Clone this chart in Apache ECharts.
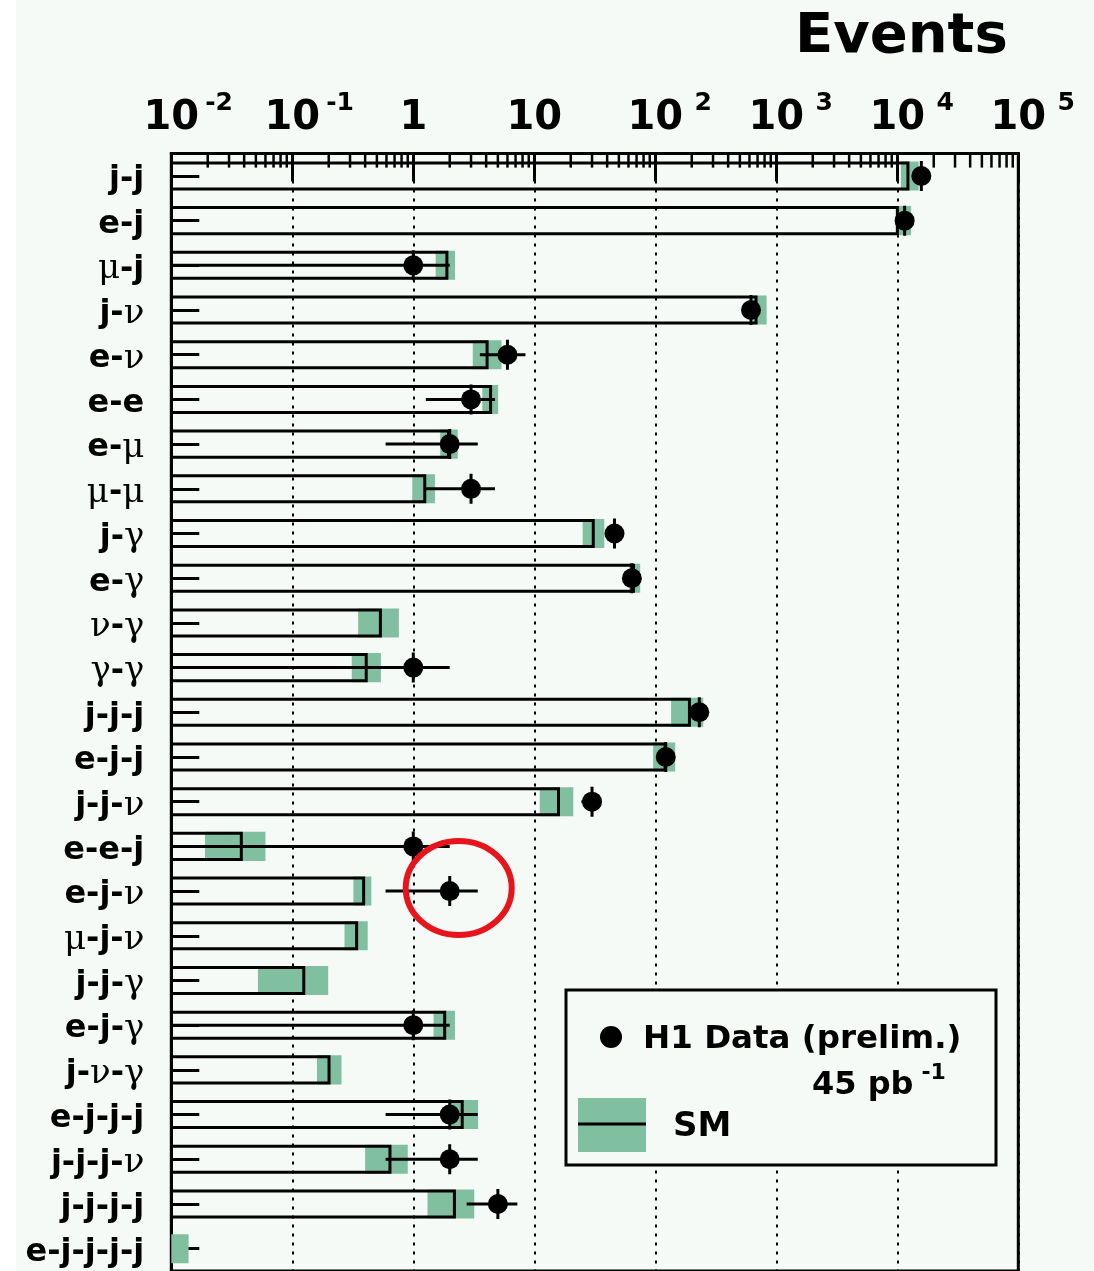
<!DOCTYPE html>
<html>
<head>
<meta charset="utf-8">
<script src="https://cdn.jsdelivr.net/npm/echarts@6/dist/echarts.min.js"></script>
<style>
  html, body { margin: 0; padding: 0; background: #f5faf6; }
  #chart { width: 1094px; height: 1271px; }
</style>
</head>
<body>
<div id="chart"></div>
<script>
// Event topologies, top to bottom
const categories = ['j-j','e-j','μ-j','j-ν','e-ν','e-e','e-μ','μ-μ','j-γ','e-γ','ν-γ','γ-γ',
  'j-j-j','e-j-j','j-j-ν','e-e-j','e-j-ν','μ-j-ν','j-j-γ','e-j-γ','j-ν-γ','e-j-j-j','j-j-j-ν','j-j-j-j','e-j-j-j-j'];

// Standard Model expectation and its uncertainty band
const smExpected = [12600, 10300, 1.95, 700, 4.19, 4.48, 2.01, 1.28, 31.6, 68, 0.55, 0.42,
  197, 124, 16.3, 0.039, 0.40, 0.35, 0.128, 1.87, 0.207, 2.61, 0.66, 2.25, 0.008];
const smLow = [10700, 9800, 1.53, 645, 3.1, 3.72, 1.67, 0.98, 25.1, 61, 0.35, 0.31,
  135, 96, 11.1, 0.019, 0.32, 0.27, 0.052, 1.47, 0.16, 2.04, 0.40, 1.31, 0.005];
const smHigh = [15000, 13000, 2.21, 832, 5.36, 5.02, 2.33, 1.51, 37.9, 75, 0.76, 0.54,
  249, 146, 21, 0.06, 0.45, 0.42, 0.198, 2.21, 0.255, 3.43, 0.90, 3.19, 0.0139];

// H1 observed events (null = no event observed) with error bar ends
const dataObserved = [15800, 11500, 1, 618, 6, 3, 2, 3, 46, 64, null, 1,
  231, 122, 30, 1, 2, null, null, 1, null, 2, 2, 5, null];
const dataErrLow = [15670, 11390, 0, 593, 3.55, 1.27, 0.59, 1.27, 39.2, 56, null, 0,
  216, 111, 24.5, 0, 0.59, null, null, 0, null, 0.59, 0.59, 2.76, null];
const dataErrHigh = [15930, 11610, 2, 643, 8.45, 4.73, 3.41, 4.73, 52.8, 72, null, 2,
  246, 133, 35.5, 2, 3.41, null, null, 2, null, 3.41, 3.41, 7.24, null];

// Axis decades and the minor tick multipliers inside each decade
const decadeTicks = [0.01, 0.1, 1, 10, 100, 1000, 10000, 100000];
const minorMultipliers = [2, 3, 4, 5, 6, 7, 8, 9];

const BG = '#f5faf6';
const BAND = '#80c0a0';
const SANS = 'DejaVu Sans';
const SERIF = 'DejaVu Serif';
const GREEK = /[μνγ]/;

const minorTickValues = [];
decadeTicks.slice(0, -1).forEach(d => minorMultipliers.forEach(m => minorTickValues.push(+(m * d).toPrecision(3))));

function categoryLabel(name) {
  let out = '';
  for (const ch of name) {
    out += GREEK.test(ch) ? '{g|' + ch + '}' : '{a|' + ch + '}';
  }
  return out;
}

function decadeLabel(v) {
  const e = Math.round(Math.log10(v));
  if (e === 0) return '{b|1}';
  if (e === 1) return '{b|10}';
  return '{p|}{b|10}{s|' + e + '}';
}

const smItems = categories.map((c, i) => [i, smExpected[i], smLow[i], smHigh[i]]);
const dataItems = [];
categories.forEach((c, i) => {
  if (dataObserved[i] != null) dataItems.push([i, dataObserved[i], dataErrLow[i], dataErrHigh[i]]);
});

function renderSM(params, api) {
  const cs = params.coordSys;
  const i = api.value(0);
  const sm = api.value(1), lo = api.value(2), hi = api.value(3);
  const yc = api.coord([1, i])[1];
  const h = api.size([0, 1])[1] * 0.65;
  const xLo = Math.max(api.coord([lo, i])[0], cs.x);
  const xHi = api.coord([hi, i])[0];
  const xSm = api.coord([sm, i])[0];
  const children = [];
  if (xHi > cs.x) {
    children.push({ type: 'rect', shape: { x: xLo, y: yc - h / 2, width: xHi - xLo, height: h },
      style: { fill: BAND } });
  }
  if (xSm > cs.x) {
    const t = yc - h / 2 + 1.5, b = yc + h / 2 - 1.5, r = xSm - 1.5;
    children.push({ type: 'polyline', shape: { points: [[cs.x, t], [r, t], [r, b], [cs.x, b]] },
      style: { stroke: '#000', lineWidth: 3, fill: null } });
  }
  return { type: 'group', children };
}

function renderData(params, api) {
  const cs = params.coordSys;
  const i = api.value(0);
  const n = api.value(1), lo = api.value(2), hi = api.value(3);
  const p = api.coord([n, i]);
  const xl = lo > 0 ? Math.max(api.coord([lo, i])[0], cs.x) : cs.x;
  const xh = api.coord([hi, i])[0];
  return {
    type: 'group',
    children: [
      { type: 'line', shape: { x1: xl, y1: p[1], x2: xh, y2: p[1] }, style: { stroke: '#000', lineWidth: 3 } },
      { type: 'line', shape: { x1: p[0], y1: p[1] - 15, x2: p[0], y2: p[1] + 15 }, style: { stroke: '#000', lineWidth: 3 } },
      { type: 'circle', shape: { cx: p[0], cy: p[1], r: 10 }, style: { fill: '#000' } }
    ]
  };
}

function renderMinorTick(params, api) {
  const cs = params.coordSys;
  const x = api.coord([api.value(0), 0])[0];
  return { type: 'line', shape: { x1: x, y1: cs.y, x2: x, y2: cs.y + 14 }, style: { stroke: '#000', lineWidth: 2.5 } };
}

const chart = echarts.init(document.getElementById('chart'), null, { renderer: 'canvas' });

const option = {
  backgroundColor: BG,
  animation: false,
  grid: {
    left: 171.3, top: 153.6, width: 847, height: 1120.5,
    show: true, borderColor: '#000', borderWidth: 3, backgroundColor: 'transparent'
  },
  xAxis: {
    type: 'log', logBase: 10, position: 'top', min: 0.01, max: 100000, splitNumber: 7,
    axisLine: { show: true, lineStyle: { color: '#000', width: 3 } },
    axisTick: { show: true, inside: true, length: 28, lineStyle: { color: '#000', width: 3 } },
    minorTick: { show: false },
    splitLine: { show: true, lineStyle: { color: '#000', width: 2, type: [3, 6] } },
    axisLabel: {
      margin: 10, color: '#000', formatter: decadeLabel,
      rich: {
        b: { fontFamily: SANS, fontWeight: 'bold', fontSize: 40, lineHeight: 50, color: '#000' },
        s: { fontFamily: SANS, fontWeight: 'bold', fontSize: 25, lineHeight: 25, color: '#000',
             padding: [0, 0, 30, 5], width: 30 },
        p: { width: 35 }
      }
    }
  },
  yAxis: {
    type: 'category', inverse: true, data: categories,
    axisLine: { show: true, lineStyle: { color: '#000', width: 3 } },
    axisTick: { show: true, inside: true, alignWithLabel: true, length: 28, lineStyle: { color: '#000', width: 3 } },
    splitLine: { show: false },
    axisLabel: {
      margin: 27, color: '#000', formatter: categoryLabel, padding: [8, 0, 0, 0],
      rich: {
        a: { fontFamily: SANS, fontWeight: 'bold', fontSize: 32, color: '#000' },
        g: { fontFamily: SERIF, fontSize: 34, color: '#000' }
      }
    }
  },
  series: [
    { type: 'custom', name: 'SM', renderItem: renderSM, data: smItems,
      encode: { x: [1, 2, 3], y: 0 }, clip: true, z: 2 },
    { type: 'custom', name: 'H1 Data', renderItem: renderData, data: dataItems,
      encode: { x: [1, 2, 3], y: 0 }, clip: true, z: 4 },
    { type: 'custom', name: 'minor ticks', renderItem: renderMinorTick,
      data: minorTickValues.map(v => [v, 0]), encode: { x: 0, y: 1 }, z: 5, silent: true }
  ]
};

chart.setOption(option);

// Decorations: title, legend box, highlighted point, left margin strip
const circled = chart.convertToPixel({ xAxisIndex: 0, yAxisIndex: 0 }, [dataObserved[16], categories[16]]);

chart.setOption({
  graphic: [
    { type: 'rect', left: 0, top: 0, shape: { width: 16, height: 1271 }, style: { fill: '#ffffff' }, z: 0 },
    { type: 'text', x: 795, y: 37, style: { text: 'Events', fontFamily: SANS, fontWeight: 'bold', fontSize: 56,
      fill: '#000', verticalAlign: 'middle', align: 'left' }, z: 10 },
    { type: 'group', z: 20, children: [
      { type: 'rect', shape: { x: 566, y: 990, width: 430, height: 175 },
        style: { fill: BG, stroke: '#000', lineWidth: 3 } },
      { type: 'circle', shape: { cx: 611, cy: 1037, r: 11 }, style: { fill: '#000' } },
      { type: 'text', x: 643, y: 1040, style: { text: 'H1 Data (prelim.)', fontFamily: SANS, fontWeight: 'bold',
        fontSize: 32.5, fill: '#000', verticalAlign: 'middle' } },
      { type: 'text', x: 812, y: 1086, style: { text: '{a|45 pb}{s|-1}', verticalAlign: 'middle',
        rich: {
          a: { fontFamily: SANS, fontWeight: 'bold', fontSize: 32, fill: '#000' },
          s: { fontFamily: SANS, fontWeight: 'bold', fontSize: 22, fill: '#000', padding: [0, 0, 26, 8] }
        } } },
      { type: 'rect', shape: { x: 578, y: 1098, width: 68, height: 54 }, style: { fill: BAND } },
      { type: 'line', shape: { x1: 578, y1: 1124, x2: 646, y2: 1124 }, style: { stroke: '#000', lineWidth: 3 } },
      { type: 'text', x: 673, y: 1127, style: { text: 'SM', fontFamily: SANS, fontWeight: 'bold', fontSize: 34,
        fill: '#000', verticalAlign: 'middle' } }
    ] },
    { type: 'ellipse', z: 30, shape: { cx: circled[0] + 9, cy: circled[1] - 3, rx: 53, ry: 47 },
      style: { fill: null, stroke: '#e8141c', lineWidth: 6 } }
  ]
});
</script>
</body>
</html>
